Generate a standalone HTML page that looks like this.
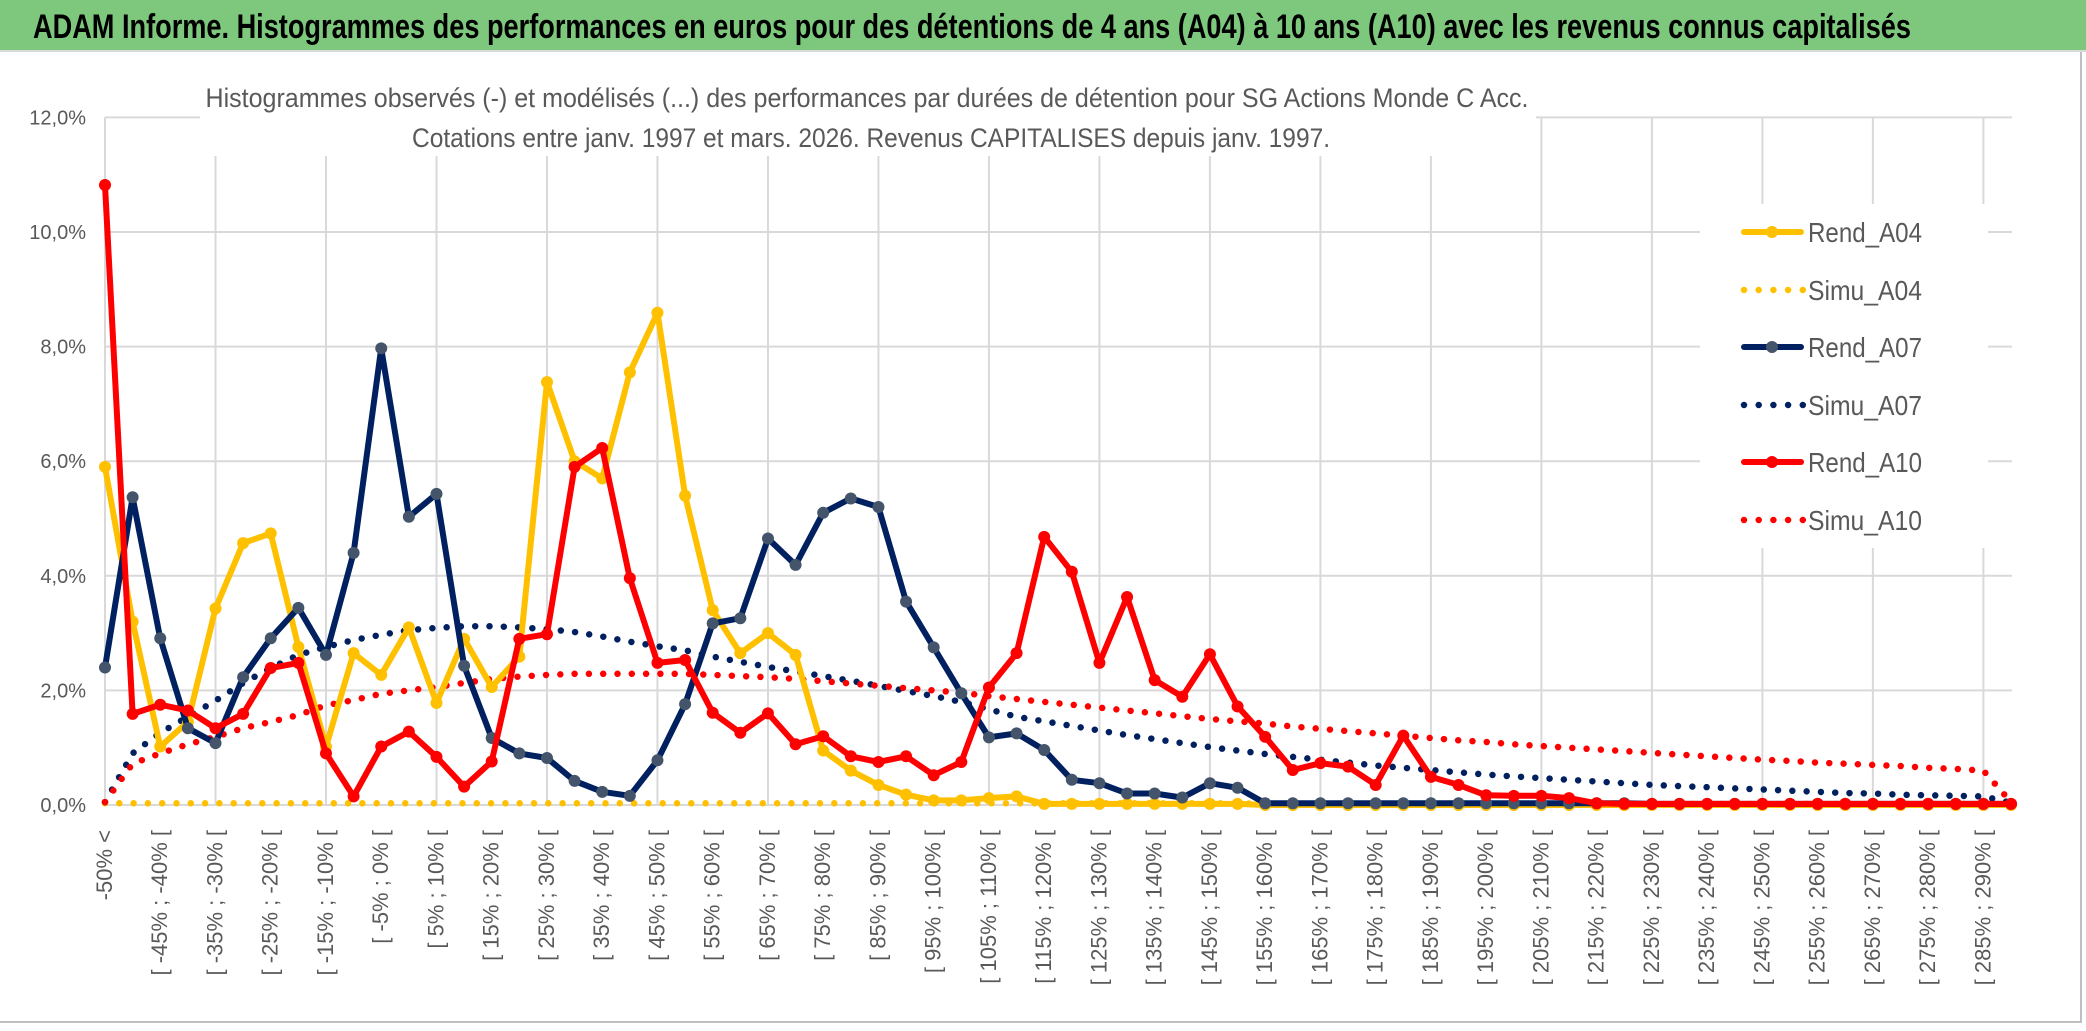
<!DOCTYPE html>
<html><head><meta charset="utf-8"><style>
html,body{margin:0;padding:0;background:#fff}
svg{display:block}
text{font-family:"Liberation Sans Narrow","Liberation Sans",sans-serif}
</style></head><body>
<svg id="chart" width="2086" height="1031" viewBox="0 0 2086 1031" xmlns="http://www.w3.org/2000/svg">
<rect x="0" y="0" width="2086" height="1031" fill="#fff"/>
<rect x="0" y="0" width="2086" height="50" fill="#7ec87e"/>
<line x1="0" y1="51" x2="2086" y2="51" stroke="#d9d9d9" stroke-width="2"/>
<text x="33" y="38" font-size="34" font-weight="bold" fill="#000" textLength="1878" lengthAdjust="spacingAndGlyphs">ADAM Informe. Histogrammes des performances en euros pour des détentions de 4 ans (A04) à 10 ans (A10) avec les revenus connus capitalisés</text>
<line x1="2081" y1="52" x2="2081" y2="1022" stroke="#bfbfbf" stroke-width="2"/>
<line x1="0" y1="1022" x2="2082" y2="1022" stroke="#bfbfbf" stroke-width="2"/>
<g id="grid"></g>
<rect x="200" y="68" width="1336" height="88" fill="#fff"/>
<text x="867" y="107" font-size="27" fill="#595959" text-anchor="middle" textLength="1323" lengthAdjust="spacingAndGlyphs">Histogrammes observés (-) et modélisés (...) des performances par durées de détention pour SG Actions Monde C Acc.</text>
<text x="871" y="147" font-size="27" fill="#595959" text-anchor="middle" textLength="918" lengthAdjust="spacingAndGlyphs">Cotations entre janv. 1997 et mars. 2026. Revenus CAPITALISES depuis janv. 1997.</text>
<g id="yaxis"></g>
<g id="xaxis"></g>
<g id="series"></g>
<g id="legend"></g>
</svg>
<script>
const yTicks = [0,2,4,6,8,10,12];
const yTickLabels = ["0,0%","2,0%","4,0%","6,0%","8,0%","10,0%","12,0%"];
const categoryCount = 70;
const rendA04 = [5.9,3.2,1.02,1.45,3.43,4.57,4.74,2.76,1.02,2.65,2.27,3.1,1.78,2.9,2.06,2.59,7.38,6.0,5.7,7.55,8.59,5.4,3.4,2.65,3.0,2.62,0.95,0.6,0.35,0.18,0.08,0.08,0.12,0.15,0.02,0.02,0.02,0.02,0.02,0.02,0.02,0.02,0,0,0,0,0,0,0,0,0,0,0,0,0,0,0,0,0,0,0,0,0,0,0,0,0,0,0,0];
const simuA04 = [0.03,0.03,0.03,0.03,0.03,0.03,0.03,0.03,0.03,0.03,0.03,0.03,0.03,0.03,0.03,0.03,0.03,0.03,0.03,0.03,0.03,0.03,0.03,0.03,0.03,0.03,0.03,0.03,0.03,0.03,0.03,0.03,0.03,0.03,0.03,0.03,0.03,0.03,0.03,0.03,0.03,0.03,0.02,0.02,0.02,0.02,0.02,0.02,0.02,0.02,0.02,0.02,0.02,0.02,0.02,0.02,0.02,0.02,0.02,0.02,0.02,0.02,0.02,0.02,0.02,0.02,0.02,0.02,0.02,0.02];
const rendA07 = [2.4,5.37,2.91,1.34,1.08,2.23,2.91,3.44,2.62,4.4,7.97,5.03,5.43,2.43,1.17,0.9,0.82,0.42,0.23,0.16,0.78,1.76,3.17,3.26,4.65,4.19,5.1,5.35,5.2,3.55,2.75,1.95,1.18,1.25,0.96,0.44,0.38,0.2,0.2,0.13,0.38,0.3,0.03,0.03,0.03,0.03,0.03,0.03,0.03,0.03,0.03,0.03,0.03,0.03,0.03,0.03,0.02,0.02,0.02,0.02,0.02,0.02,0.02,0.02,0.02,0.02,0.02,0.02,0.02,0.02];
const simuA07 = [0.05,0.9,1.26,1.54,1.82,2.13,2.39,2.62,2.76,2.88,2.97,3.05,3.09,3.12,3.12,3.1,3.07,3.02,2.94,2.85,2.77,2.7,2.59,2.5,2.41,2.33,2.25,2.17,2.08,1.99,1.9,1.8,1.67,1.54,1.46,1.38,1.3,1.22,1.15,1.08,1.01,0.95,0.89,0.84,0.79,0.74,0.69,0.65,0.61,0.57,0.53,0.5,0.47,0.44,0.41,0.38,0.35,0.33,0.31,0.29,0.27,0.25,0.23,0.21,0.2,0.18,0.17,0.16,0.15,0.04];
const rendA10 = [10.82,1.59,1.75,1.65,1.34,1.59,2.39,2.48,0.9,0.15,1.02,1.28,0.84,0.32,0.76,2.9,2.98,5.9,6.23,3.96,2.48,2.53,1.61,1.26,1.6,1.06,1.2,0.85,0.75,0.85,0.52,0.75,2.05,2.65,4.68,4.07,2.48,3.63,2.18,1.89,2.63,1.72,1.19,0.61,0.73,0.67,0.35,1.21,0.49,0.35,0.17,0.16,0.16,0.12,0.03,0.02,0.02,0.02,0.02,0.02,0.02,0.02,0.02,0.02,0.02,0.02,0.02,0.02,0.02,0.02];
const simuA10 = [0.05,0.72,0.9,1.06,1.19,1.34,1.45,1.57,1.74,1.83,1.94,2.0,2.06,2.13,2.2,2.24,2.27,2.29,2.29,2.29,2.29,2.29,2.27,2.25,2.23,2.2,2.16,2.12,2.08,2.04,2.0,1.96,1.9,1.85,1.8,1.75,1.7,1.65,1.6,1.55,1.5,1.46,1.42,1.37,1.33,1.29,1.25,1.21,1.17,1.13,1.1,1.06,1.03,1.0,0.97,0.94,0.91,0.88,0.85,0.82,0.79,0.77,0.74,0.72,0.7,0.68,0.65,0.63,0.6,0.05];

const NS="http://www.w3.org/2000/svg";
const X0=105, X1=2011, Y0=805, PER=57.3;
function xPos(i){return X0+(X1-X0)*i/(categoryCount-1);}
function yPos(v){return Y0-v*PER;}
function mk(tag,attrs,parent){const e=document.createElementNS(NS,tag);for(const k in attrs)e.setAttribute(k,attrs[k]);parent.appendChild(e);return e;}
function catLabel(i){if(i===0)return "-50% <";const a=-50+5*(i-1);return "[ "+a+"% ; "+(a+5)+"% [";}

const grid=document.getElementById('grid');
yTicks.forEach((t,k)=>{
  const l=mk('line',{x1:X0,x2:X1+1,y1:yPos(t),y2:yPos(t),stroke:'#d9d9d9','stroke-width':2},grid);
  
  
});
for(let i=4;i<categoryCount;i+=4){
  const l=mk('line',{x1:xPos(i),x2:xPos(i),y1:yPos(12),y2:Y0,stroke:'#d9d9d9','stroke-width':2},grid);
  
  
}
const ax=mk('line',{x1:X0,x2:X0,y1:yPos(12),y2:Y0,stroke:'#d9d9d9','stroke-width':2},grid);



const ya=document.getElementById('yaxis');
yTicks.forEach((t,k)=>{
  const tx=mk('text',{x:86,y:yPos(t)+7,'font-size':20,fill:'#595959','text-anchor':'end'},ya);
  tx.textContent=yTickLabels[k];
  
  
});
const xa=document.getElementById('xaxis');
for(let i=0;i<categoryCount;i+=2){
  const x=xPos(i)+7,y=830;
  const tx=mk('text',{x:x,y:y,'font-size':22,fill:'#595959','text-anchor':'end',transform:'rotate(-90 '+x+' '+y+')',style:'font-family:"Liberation Sans",sans-serif'},xa);
  tx.textContent=catLabel(i);
  
  
}

const series=[
  {name:'Simu_A04',data:simuA04,color:'#ffc000',dotted:true},
  {name:'Simu_A07',data:simuA07,color:'#002060',dotted:true},
  {name:'Simu_A10',data:simuA10,color:'#ff0000',dotted:true},
  {name:'Rend_A04',data:rendA04,color:'#ffc000',marker:'#ffc000'},
  {name:'Rend_A07',data:rendA07,color:'#002060',marker:'#44546a'},
  {name:'Rend_A10',data:rendA10,color:'#ff0000',marker:'#ff0000'}
];
const sg=document.getElementById('series');
series.forEach(s=>{
  const g=mk('g',{},sg);
  
  
  const pts=s.data.map((v,i)=>xPos(i).toFixed(1)+','+yPos(v).toFixed(1)).join(' ');
  const pl=mk('polyline',{points:pts,fill:'none',stroke:s.color,'stroke-width':s.dotted?6.5:6,'stroke-linejoin':'round','stroke-linecap':'round'},g);
  if(s.dotted)pl.setAttribute('stroke-dasharray','0 14.3');
  
  
  if(!s.dotted){
    s.data.forEach((v,i)=>{
      const c=mk('circle',{cx:xPos(i),cy:yPos(v),r:6,fill:s.marker},g);
      
      
    });
  }
});

const lg=document.getElementById('legend');
const bg=mk('rect',{x:1700,y:204,width:288,height:344,fill:'#fff'},lg);


const order=['Rend_A04','Simu_A04','Rend_A07','Simu_A07','Rend_A10','Simu_A10'];
const rows=[232,290,347,405,462,520];
order.forEach((n,k)=>{
  const s=series.find(z=>z.name===n);
  const g=mk('g',{},lg);
  
  
  const y=rows[k];
  if(s.dotted){
    const l=mk('line',{x1:1744,x2:1803,y1:y,y2:y,stroke:s.color,'stroke-width':6.5,'stroke-linecap':'round','stroke-dasharray':'0 14.7'},g);
    
    
  } else {
    const l=mk('line',{x1:1744,x2:1801,y1:y,y2:y,stroke:s.color,'stroke-width':6,'stroke-linecap':'round'},g);
    
    
    const c=mk('circle',{cx:1772,cy:y,r:6,fill:s.marker},g);
    
    
  }
  const t=mk('text',{x:1808,y:y+10,'font-size':28,fill:'#595959',textLength:114,lengthAdjust:'spacingAndGlyphs'},g);
  t.textContent=n;
  
  
});
</script>
</body></html>
